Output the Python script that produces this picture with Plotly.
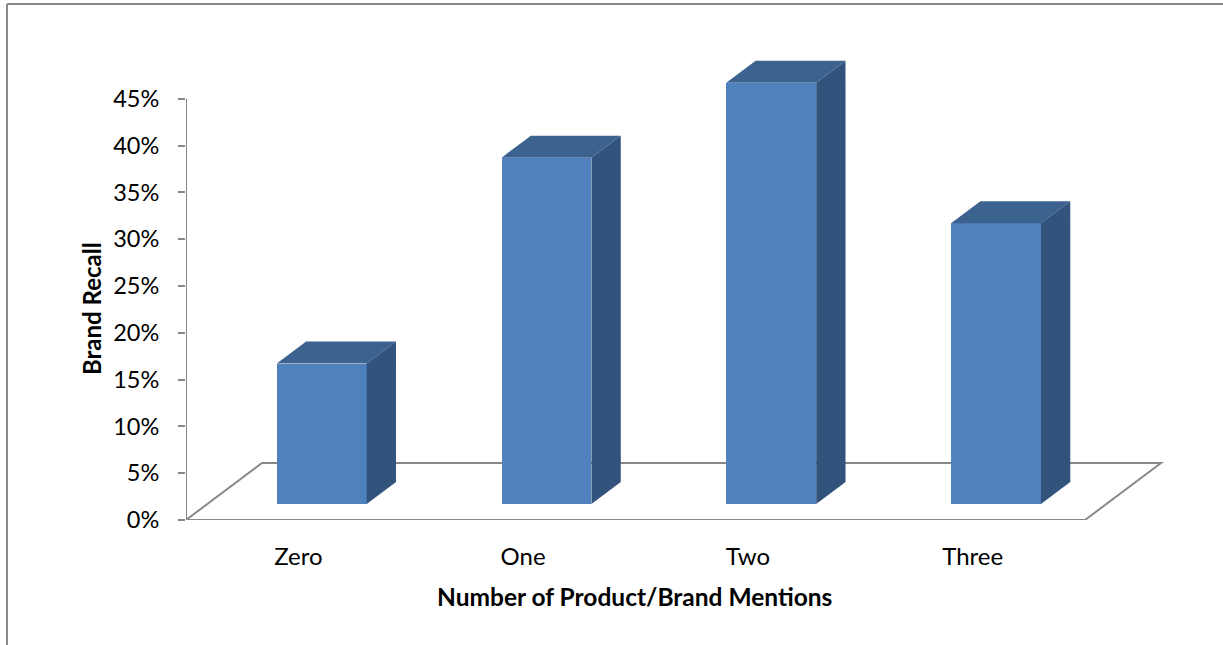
import plotly.graph_objects as go

# Chart data
categories = ["Zero", "One", "Two", "Three"]
recall = [0.15, 0.37, 0.45, 0.30]
y_ticks = [0.00, 0.05, 0.10, 0.15, 0.20, 0.25, 0.30, 0.35, 0.40, 0.45]
y_tick_text = ["0%", "5%", "10%", "15%", "20%", "25%", "30%", "35%", "40%", "45%"]

# Canvas and plot-area geometry (pixels)
W, H = 1223, 645
L, R, T, B = 186, 1200, 40, 520
PX_X = 224.75          # pixels per category slot
PX_Y = 936.0           # pixels per 1.0 (100%) on the value axis

# Oblique depth of the floor (pixels) and where the columns sit in that depth
DEPTH_X, DEPTH_Y = 76.0, 57.0
F_FRONT, F_BACK = 0.281, 0.667
HALF_W = 0.2
SHIFT = 2.0 / PX_X     # small horizontal nudge of the columns

FRONT = "#4F81BD"
TOP = "#3C628F"
SIDE = "#32537C"
GRID = "#888888"
FONT = "Lato, Carlito, Calibri, sans-serif"

x_min = -0.5
x_max = x_min + (R - L) / PX_X
y_max = (B - T) / PX_Y


def dx(frac):
    return frac * DEPTH_X / PX_X


def dy(frac):
    return frac * DEPTH_Y / PX_Y


def px_to_paper(px, py):
    return (px - L) / (R - L), (B - py) / (B - T)


fig = go.Figure()

# Front faces of the columns
fig.add_trace(go.Bar(
    x=[i + dx(F_FRONT) + SHIFT for i in range(len(categories))],
    y=recall,
    base=[dy(F_FRONT)] * len(recall),
    width=2 * HALF_W,
    marker=dict(color=FRONT, line=dict(width=0)),
    hoverinfo="skip",
    showlegend=False,
))

# Top and side faces
for i, v in enumerate(recall):
    xl0, xr0 = i - HALF_W + dx(F_FRONT) + SHIFT, i + HALF_W + dx(F_FRONT) + SHIFT
    xl1, xr1 = i - HALF_W + dx(F_BACK) + SHIFT, i + HALF_W + dx(F_BACK) + SHIFT
    y0, y1 = dy(F_FRONT), dy(F_BACK)
    fig.add_trace(go.Scatter(
        x=[xl0, xr0, xr1, xl1, xl0],
        y=[v + y0, v + y0, v + y1, v + y1, v + y0],
        fill="toself", fillcolor=TOP, mode="lines",
        line=dict(width=0, color=TOP),
        hoverinfo="skip", showlegend=False,
    ))
    fig.add_trace(go.Scatter(
        x=[xr0, xr1, xr1, xr0, xr0],
        y=[y0, y1, v + y1, v + y0, y0],
        fill="toself", fillcolor=SIDE, mode="lines",
        line=dict(width=0, color=SIDE),
        hoverinfo="skip", showlegend=False,
    ))

shapes = []
# Floor outline
n = len(categories)
floor_path = (
    f"M {x_min},0 L {x_min + dx(1)},{dy(1)} "
    f"L {n - 0.5 + dx(1)},{dy(1)} L {n - 0.5},0 Z"
)
shapes.append(dict(type="path", path=floor_path, xref="x", yref="y",
                   line=dict(color=GRID, width=2), layer="below"))
# Value axis line
shapes.append(dict(type="line", xref="x", yref="y", x0=x_min, x1=x_min,
                   y0=0, y1=y_ticks[-1], line=dict(color=GRID, width=2),
                   layer="below"))
# Outer frame (left and top edges)
fx0, fy0 = px_to_paper(7, 4)
fx1, _ = px_to_paper(W + 5, 4)
_, fy1 = px_to_paper(7, H + 5)
shapes.append(dict(type="line", xref="paper", yref="paper", x0=fx0, x1=fx0,
                   y0=fy0, y1=fy1, line=dict(color=GRID, width=2)))
shapes.append(dict(type="line", xref="paper", yref="paper", x0=fx0, x1=fx1,
                   y0=fy0, y1=fy0, line=dict(color=GRID, width=2)))

ax, ay = px_to_paper(634, 596)
yx, yy = px_to_paper(91, 309)
annotations = [
    dict(text="<b>Number of Product/Brand Mentions</b>", x=ax, y=ay,
         xref="paper", yref="paper", showarrow=False,
         xanchor="center", yanchor="middle",
         font=dict(family=FONT, size=24.5, color="black")),
    dict(text="<b>Brand Recall</b>", x=yx, y=yy, textangle=-90,
         xref="paper", yref="paper", showarrow=False,
         xanchor="center", yanchor="middle",
         font=dict(family=FONT, size=24, color="black")),
]

fig.update_layout(
    width=W, height=H,
    margin=dict(l=L, r=W - R, t=T, b=H - B, pad=0),
    paper_bgcolor="white", plot_bgcolor="white",
    bargap=0, showlegend=False,
    shapes=shapes, annotations=annotations,
    xaxis=dict(
        range=[x_min, x_max], tickmode="array",
        tickvals=list(range(n)), ticktext=categories,
        showgrid=False, zeroline=False, showline=False, ticks="",
        ticklabelstandoff=20,
        tickfont=dict(family=FONT, size=24, color="black"),
        fixedrange=True,
    ),
    yaxis=dict(
        range=[0, y_max], tickmode="array",
        tickvals=y_ticks, ticktext=y_tick_text,
        showgrid=False, zeroline=False, showline=False,
        ticks="outside", ticklen=7, tickwidth=2, tickcolor=GRID,
        ticklabelstandoff=14,
        tickfont=dict(family=FONT, size=23.5, color="black"),
        fixedrange=True,
    ),
)

fig.write_html("out.html")
